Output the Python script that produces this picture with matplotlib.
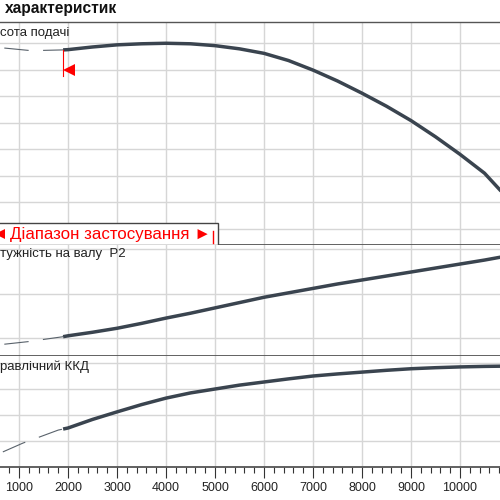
import matplotlib
matplotlib.use("Agg")
import matplotlib.pyplot as plt
from matplotlib.patches import Rectangle
from matplotlib.ticker import MultipleLocator

# ---- data (flow Q, m3/h) ----
q_head_ext = [700, 1200, 1450, 1900]
head_ext = [6.81, 6.72, 6.72, 6.74]
q_head = [1900, 2000, 2500, 3000, 3500, 4000, 4500, 5000, 5500, 6000, 6500,
          7000, 7500, 8000, 8500, 9000, 9500, 10000, 10500, 10900]
head = [6.74, 6.75, 6.85, 6.93, 6.97, 6.99, 6.97, 6.90, 6.78, 6.61, 6.34,
        5.98, 5.57, 5.11, 4.62, 4.08, 3.47, 2.81, 2.10, 1.30]

q_pow_ext = [700, 1200, 1450, 1900]
pow_ext = [-0.14, -0.08, -0.04, 0.03]
q_pow = [1900, 2000, 2500, 3000, 3500, 4000, 4500, 5000, 5500, 6000, 6500,
         7000, 7500, 8000, 8500, 9000, 9500, 10000, 10500, 10900]
power = [0.03, 0.05, 0.13, 0.22, 0.33, 0.45, 0.56, 0.68, 0.80, 0.92, 1.02,
         1.12, 1.22, 1.31, 1.40, 1.49, 1.58, 1.67, 1.76, 1.84]

q_eff_ext = [670, 1080, 1370, 1800, 1900]
eff_ext = [-0.42, -0.08, 0.12, 0.42, 0.46]
q_eff = [1900, 2000, 2500, 3000, 3500, 4000, 4500, 5000, 5500, 6000, 6500,
         7000, 7500, 8000, 8500, 9000, 9500, 10000, 10500, 10900]
eff = [0.46, 0.50, 0.83, 1.12, 1.40, 1.65, 1.85, 2.00, 2.15, 2.27, 2.39,
       2.50, 2.58, 2.65, 2.72, 2.78, 2.82, 2.85, 2.87, 2.88]

range_start = 1900
range_end = 4950
x_ticks = [1000, 2000, 3000, 4000, 5000, 6000, 7000, 8000, 9000, 10000]

title = "характеристик"
label_head = "сота подачі"
label_power = "тужність на валу  P2"
label_eff = "равлічний ККД"
range_text = "Діапазон застосування ►"

# ---- style ----
LINE = "#3a444f"
DASH = "#59626b"
GRID = "#d6d6d6"
SPINE = "#555555"
RED = "#ff0000"
LAB = ["Liberation Sans", "DejaVu Sans"]

fig = plt.figure(figsize=(5, 5), dpi=100)
fig.patch.set_facecolor("white")

def px(y):
    return 1 - y / 500.0

ax1 = fig.add_axes([0, px(245), 1, 223 / 500])
ax2 = fig.add_axes([0, px(356), 1, 111 / 500])
ax3 = fig.add_axes([0, px(467), 1, 111 / 500])

xlim = (612, 10816)
for ax in (ax1, ax2, ax3):
    ax.set_xlim(*xlim)
    ax.set_xticks(x_ticks)
    ax.grid(True, which="major", color=GRID, lw=1.0, zorder=0)
    ax.set_axisbelow(True)
    ax.tick_params(left=False, labelleft=False, bottom=False, labelbottom=False)
    for s in ("left", "right"):
        ax.spines[s].set_visible(False)
    for s in ("top", "bottom"):
        ax.spines[s].set_color(SPINE)
        ax.spines[s].set_linewidth(1.3)

ax1.set_ylim(-0.602, 7.79)
ax1.set_yticks(range(0, 8))
ax2.set_ylim(-0.406, 2.1)
ax2.set_yticks([0, 1, 2])
ax3.set_ylim(-1.0, 3.27)
ax3.set_yticks([0, 1, 2, 3])
ax2.spines["top"].set_visible(False)
ax3.spines["top"].set_visible(False)
ax1.spines["top"].set_linewidth(1.0)

# bottom axis ticks
ax3.xaxis.set_minor_locator(MultipleLocator(200))
ax3.tick_params(axis="x", which="major", bottom=True, labelbottom=True,
                direction="out", length=8, width=0.8, color="#333333",
                labelsize=9, pad=3, labelcolor="#222222")
ax3.tick_params(axis="x", which="minor", bottom=True, direction="out",
                length=4.5, width=0.8, color="#333333")
for lab in ax3.get_xticklabels():
    lab.set_family(LAB)

# curves
for ax, qe, ve, q, v in ((ax1, q_head_ext, head_ext, q_head, head),
                         (ax2, q_pow_ext, pow_ext, q_pow, power),
                         (ax3, q_eff_ext, eff_ext, q_eff, eff)):
    ax.plot(qe, ve, color=DASH, lw=0.8, linestyle=(0, (22, 13)), zorder=3)
    ax.plot(q, v, color=LINE, lw=2.5, solid_capstyle="butt",
            solid_joinstyle="round", zorder=4)

# red start-of-range marker in head panel
ax1.plot([range_start, range_start], [head[0], 5.76], color=RED, lw=0.8, zorder=5)
ax1.plot([range_start + 120], [5.98], marker="<", color=RED, ms=8,
         markeredgewidth=0, zorder=5)

# application range box
tr = ax1.get_xaxis_transform()
ax1.add_patch(Rectangle((xlim[0] - 500, 0), range_end + 110 - (xlim[0] - 500), 0.0987,
                        transform=tr, facecolor="white", edgecolor="#444444",
                        lw=1.0, zorder=6, clip_on=False))
ax1.text(range_end - 40, 0.048, range_text, transform=tr, ha="right", va="center",
         color=RED, fontsize=12.2, family=LAB, zorder=7)
ax1.plot([xlim[0]], [0.048], transform=tr, marker="<", color=RED, ms=7,
         markeredgewidth=0, zorder=7)
ax1.plot([range_end, range_end], [0.01, 0.065], transform=tr, color=RED, lw=1.0,
         zorder=7)

# texts
fig.text(5 / 500, px(13.5), title, fontsize=11.2, fontweight="bold",
         family=LAB, va="baseline", ha="left", color="#111111")
fig.text(0, px(36), label_head, fontsize=9.5, family=LAB, va="baseline",
         ha="left", color="#222222")
fig.text(0, px(257), label_power, fontsize=9.5, family=LAB, va="baseline",
         ha="left", color="#222222")
fig.text(0, px(370), label_eff, fontsize=9.5, family=LAB, va="baseline",
         ha="left", color="#222222")

fig.savefig("out.png", dpi=100, facecolor="white")
